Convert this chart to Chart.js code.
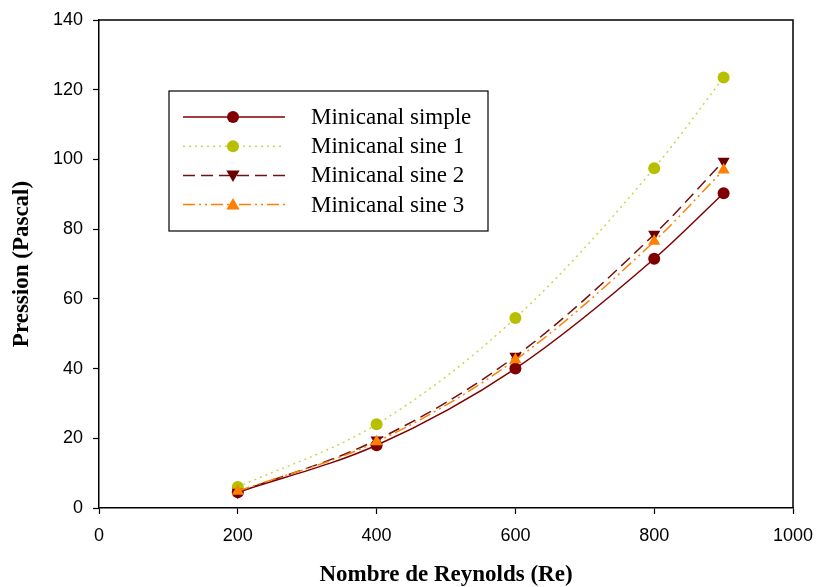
<!DOCTYPE html>
<html>
<head>
<meta charset="utf-8">
<script src="https://cdn.jsdelivr.net/npm/chart.js@4.4.0/dist/chart.umd.min.js"></script>
<style>
	html, body { margin: 0; padding: 0; background: #fff; }
	#wrap { width: 817px; height: 587px; }
</style>
</head>
<body>
<div id="wrap"><canvas id="myChart"></canvas></div>
<script>
const reynolds = [200, 400, 600, 800, 900];
const simple = [4.5, 18, 40, 71.5, 90.3];
const sine1 = [6, 24, 54.5, 97.5, 123.5];
const sine2 = [4.5, 19.5, 43.5, 78.5, 99.5];
const sine3 = [4.8, 19, 42.5, 76.5, 97];
const labels = ['Minicanal simple', 'Minicanal sine 1', 'Minicanal sine 2', 'Minicanal sine 3'];

function toPoints(values) {
	return reynolds.map((x, i) => ({ x: x, y: values[i] }));
}

function drawMarker(ctx, style, color, x, y, r, rot) {
	ctx.save();
	ctx.fillStyle = color;
	ctx.beginPath();
	if (style === 'circle') {
		ctx.arc(x, y, r, 0, Math.PI * 2);
	} else {
		const s = rot ? -1 : 1;
		ctx.moveTo(x, y - s * r * 1.1);
		ctx.lineTo(x + r * 1.1, y + s * r * 0.8);
		ctx.lineTo(x - r * 1.1, y + s * r * 0.8);
		ctx.closePath();
	}
	ctx.fill();
	ctx.restore();
}

// frame + boxed legend with line samples
const framePlugin = {
	id: 'framePlugin',
	afterDraw(chart) {
		const ctx = chart.ctx;
		const a = chart.chartArea;
		ctx.save();
		ctx.strokeStyle = '#000';
		ctx.lineWidth = 1.5;
		ctx.beginPath();
		ctx.moveTo(a.left, a.top);
		ctx.lineTo(a.right, a.top);
		ctx.lineTo(a.right, a.bottom);
		ctx.stroke();

		const bx = 169, by = 91, bw = 319, bh = 140;
		ctx.lineWidth = 1.2;
		ctx.strokeRect(bx, by, bw, bh);
		ctx.font = '23px "Liberation Serif", "Times New Roman", serif';
		ctx.textBaseline = 'middle';
		ctx.fillStyle = '#000';
		chart.data.datasets.forEach((ds, i) => {
			const y = 117 + i * 29.2;
			ctx.save();
			ctx.strokeStyle = ds.borderColor;
			ctx.lineWidth = ds.borderWidth;
			ctx.setLineDash(ds.borderDash || []);
			ctx.beginPath();
			ctx.moveTo(183, y);
			ctx.lineTo(285, y);
			ctx.stroke();
			ctx.restore();
			drawMarker(ctx, ds.pointStyle, ds.pointBackgroundColor, 233, y, 6, ds.pointRotation === 180);
			ctx.fillText(ds.label, 311, y + 1);
		});
		ctx.restore();
	}
};

const data = {
	datasets: [{
		label: labels[0],
		data: toPoints(simple),
		borderColor: '#800000',
		pointBackgroundColor: '#800000',
		pointBorderColor: '#800000',
		pointStyle: 'circle',
		pointRadius: 6,
		borderWidth: 1.5,
		order: 4
	},
	{
		label: labels[1],
		data: toPoints(sine1),
		borderColor: '#cdd547',
		borderDash: [2, 4],
		pointBackgroundColor: '#b7bf00',
		pointBorderColor: '#b7bf00',
		pointStyle: 'circle',
		pointRadius: 6,
		borderWidth: 1.5,
		order: 3
	},
	{
		label: labels[2],
		data: toPoints(sine2),
		borderColor: '#701010',
		borderDash: [12, 6],
		pointBackgroundColor: '#6a0000',
		pointBorderColor: '#6a0000',
		pointStyle: 'triangle',
		pointRotation: 180,
		pointRadius: 7,
		borderWidth: 1.5,
		order: 2
	},
	{
		label: labels[3],
		data: toPoints(sine3),
		borderColor: '#ff8000',
		borderDash: [12, 4, 2, 4, 2, 4],
		pointBackgroundColor: '#ff7f00',
		pointBorderColor: '#ff7f00',
		pointStyle: 'triangle',
		pointRadius: 7,
		borderWidth: 1.5,
		order: 1
	}]
};

const tickFont = { family: '"Liberation Sans", Arial, sans-serif', size: 18 };
const titleFont = { family: '"Liberation Serif", "Times New Roman", serif', size: 23, weight: 'bold' };

const config = {
	type: 'scatter',
	data,
	plugins: [framePlugin],
	options: {
		responsive: true,
		maintainAspectRatio: false,
		animation: false,
		showLine: true,
		datasets: { scatter: { showLine: true, cubicInterpolationMode: 'monotone', pointBorderWidth: 0 } },
		layout: { padding: { top: 20, right: 24, left: 0, bottom: 0 } },
		plugins: { legend: { display: false }, tooltip: { enabled: false } },
		scales: {
			x: {
				type: 'linear',
				min: 0,
				max: 1000,
				afterFit: s => { s.height = 79; s.paddingLeft = 0; s.paddingRight = 0; },
				ticks: { stepSize: 200, color: '#000', font: tickFont, padding: 11, maxRotation: 0, callback: v => String(v) },
				grid: { drawOnChartArea: false, tickLength: 6, tickColor: '#000', tickWidth: 1.2 },
				border: { color: '#000', width: 1.5 },
				title: { display: true, text: 'Nombre de Reynolds (Re)', color: '#000', font: titleFont, padding: { bottom: -2 } }
			},
			y: {
				min: 0,
				max: 140,
				afterFit: s => { s.width = 99; s.paddingTop = 0; s.paddingBottom = 0; },
				ticks: { stepSize: 20, color: '#000', font: tickFont, padding: 10 },
				grid: { drawOnChartArea: false, tickLength: 6, tickColor: '#000', tickWidth: 1.2 },
				border: { color: '#000', width: 1.5 },
				title: { display: true, text: 'Pression (Pascal)', color: '#000', font: titleFont, padding: { top: 8 } }
			}
		}
	}
};

const myChart = new Chart(document.getElementById('myChart'), config);
</script>
</body>
</html>
